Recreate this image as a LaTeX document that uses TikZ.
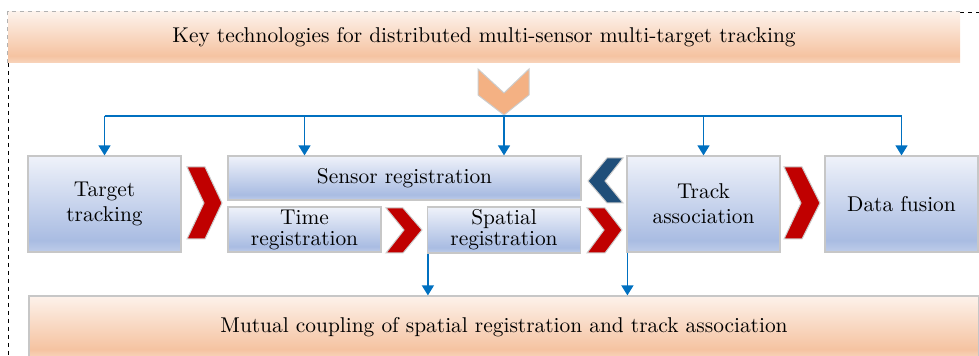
\documentclass[tikz,border=0pt]{standalone}
\usepackage{tikz}
\usetikzlibrary{arrows.meta}

\definecolor{orlight}{HTML}{FDF2EB}
\definecolor{ordark}{HTML}{F5C3A1}
\definecolor{bllight}{HTML}{EFF2FA}
\definecolor{bldark}{HTML}{A9BCE2}
\definecolor{arblue}{HTML}{0070C0}
\definecolor{chevred}{HTML}{C00000}
\definecolor{chevnavy}{HTML}{1F4E79}
\definecolor{chevorange}{HTML}{F4B183}

% shadings: path runs from 25bp (bottom) to 75bp (top)
\pgfdeclareverticalshading{orangebar}{100bp}{color(0bp)=(ordark!70!white);
  color(25bp)=(ordark!70!white); color(32bp)=(ordark); color(75bp)=(orlight);
  color(100bp)=(orlight)}
\pgfdeclareverticalshading{bluebox}{100bp}{color(0bp)=(bldark!75!white);
  color(25bp)=(bldark!75!white); color(31bp)=(bldark); color(75bp)=(bllight);
  color(100bp)=(bllight)}

\begin{document}
\begin{tikzpicture}[
  x=0.5pt, y=-0.5pt,
  font=\fontsize{10.7}{12.5}\selectfont,
  bar/.style={shading=orangebar, align=center, inner sep=0pt},
  blk/.style={shading=bluebox, draw=black!22, line width=0.6pt, align=center,
              inner sep=0pt, minimum width=76.5pt},
  bus/.style={draw=arblue, line width=0.7pt},
  ar/.style={bus, -{Triangle[width=6pt,length=5pt]}},
  chev/.style={draw=black!20, line width=0.5pt, line join=miter},
  frame/.style={dash pattern=on 2pt off 2pt, line width=0.4pt},
]
\useasboundingbox (0,0) rectangle (979,356);

% outer dashed frame
\draw[frame] (8,63) -- (8,380);
\draw[frame] (960,12) -- (990,12);

\node[bar, minimum width=476pt, minimum height=25.5pt] (head) at (484,37.5)
  {Key technologies for distributed multi-sensor multi-target tracking};
\draw[frame, draw=black!30] (head.south west) -- (head.north west) -- (head.north east);

% chevron down
\filldraw[chev, fill=chevorange] (478,69) -- (504,93) -- (529,69) -- (529,95)
  -- (504,115) -- (478,95) -- cycle;

\node[blk, minimum height=48pt] (track) at (104.5,204) {Target\\tracking};
\node[blk, minimum width=176.5pt, minimum height=22pt] (sreg) at (404.5,178)
  {Sensor registration};
\node[blk, minimum height=22.5pt] (treg) at (304.5,229.5) {Time\\[-2pt]registration};
\node[blk, minimum height=23pt] (spreg) at (504,230) {Spatial\\[-2pt]registration};
\node[blk, minimum height=48pt] (assoc) at (703.5,204) {Track\\association};
\node[blk, minimum height=48pt] (fusion) at (901.5,204) {Data fusion};

\node[bar, draw=black!22, line width=0.6pt, minimum width=475pt,
      minimum height=31pt] (coupling) at (504,327)
  {Mutual coupling of spatial registration and track association};

% blue bus
\coordinate (bus) at (504,116);
\draw[bus] (track.north |- bus) -- (fusion.north |- bus);
\draw[ar] (track.north |- bus) -- (track.north);
\draw[ar] (treg.north |- bus) -- (treg.north |- sreg.north);
\draw[ar] (spreg.north |- bus) -- (spreg.north |- sreg.north);
\draw[ar] (assoc.north |- bus) -- (assoc.north);
\draw[ar] (fusion.north |- bus) -- (fusion.north);

\draw[ar] ([xshift=0.5pt]spreg.south west) -- ([xshift=0.5pt]spreg.south west |- coupling.north);
\draw[ar] ([xshift=0.5pt]assoc.south west) -- ([xshift=0.5pt]assoc.south west |- coupling.north);

% red chevrons
\filldraw[chev, fill=chevred] (187,167) -- (205,167) -- (222,203) -- (205,239)
  -- (187,239) -- (204,203) -- cycle;
\filldraw[chev, fill=chevred] (386,208) -- (403,208) -- (422,230) -- (403,253)
  -- (386,253) -- (404,230) -- cycle;
\filldraw[chev, fill=chevred] (587,208) -- (605,208) -- (622,230) -- (605,253)
  -- (587,253) -- (604,230) -- cycle;
\filldraw[chev, fill=chevred] (784,167) -- (802,167) -- (820,203) -- (802,239)
  -- (784,239) -- (801,203) -- cycle;
% navy chevron back to sensor registration
\filldraw[chev, fill=chevnavy] (623,158) -- (607,158) -- (588,181) -- (607,203)
  -- (623,203) -- (605,181) -- cycle;

\end{tikzpicture}
\end{document}
